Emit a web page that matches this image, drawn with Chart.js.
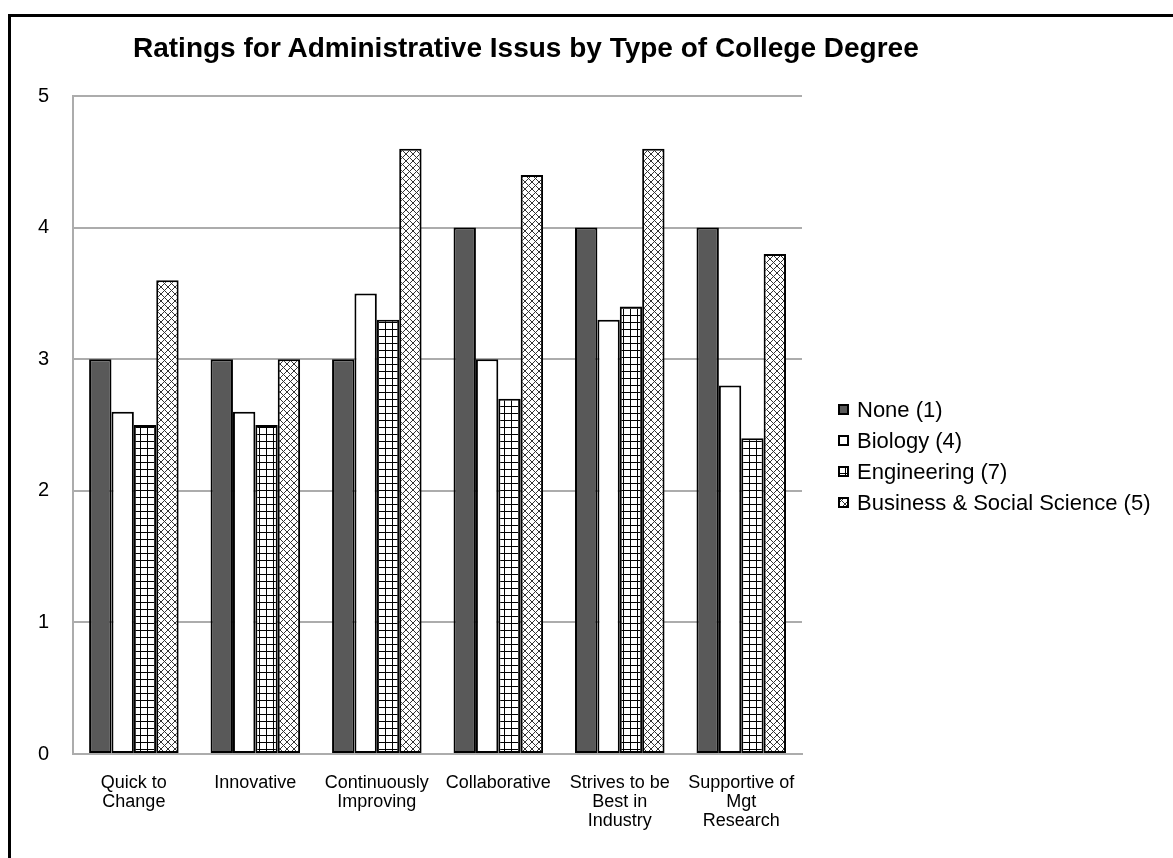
<!DOCTYPE html>
<html>
<head>
<meta charset="utf-8">
<script src="https://cdn.jsdelivr.net/npm/chart.js@4"></script>
<style>
  html, body { margin: 0; padding: 0; background: #fff; }
  #wrap { position: relative; width: 1173px; height: 858px; overflow: hidden;
          font-family: "Liberation Sans", Arial, sans-serif; color: #000; }
  #frame { position: absolute; left: 8px; top: 14px; width: 1200px; height: 900px;
           border-left: 3px solid #000; border-top: 3px solid #000; }
  #titre { position: absolute; left: 133px; top: 32px; font-weight: bold; font-size: 28px; white-space: nowrap; }
  #graphique { position: absolute; left: 0; top: 0; }
  #legende { position: absolute; left: 838px; top: 394px; font-size: 22px; }
  #legende div { height: 31px; line-height: 31px; white-space: nowrap; }
  #legende canvas { vertical-align: middle; margin-right: 8px; position: relative; top: -2px; }
</style>
</head>
<body>
<div id="wrap">
  <div id="frame"></div>
  <canvas id="graphique" width="1173" height="858"></canvas>
  <div id="titre">Ratings for Administrative Issus by Type of College Degree</div>
  <div id="legende"></div>
</div>
<script>
// categories and ratings per degree type
var categories = [
  ['Quick to', 'Change'],
  'Innovative',
  ['Continuously', 'Improving'],
  'Collaborative',
  ['Strives to be', 'Best in', 'Industry'],
  ['Supportive of', 'Mgt', 'Research']
];
var none1 = [3, 3, 3, 4, 4, 4];
var biology4 = [2.6, 2.6, 3.5, 3, 3.3, 2.8];
var engineering7 = [2.5, 2.5, 3.3, 2.7, 3.4, 2.4];
var business5 = [3.6, 3, 4.6, 4.4, 4.6, 3.8];
var seriesNames = ['None (1)', 'Biology (4)', 'Engineering (7)', 'Business & Social Science (5)'];
var yTicks = [0, 1, 2, 3, 4, 5];

// fill patterns
function motifGrille(g0) {
  var c = document.createElement('canvas');
  c.width = 7; c.height = 7;
  var g = c.getContext('2d');
  g.fillStyle = '#fff'; g.fillRect(0, 0, 7, 7);
  g.fillStyle = '#000';
  g.fillRect(0, 0, 7, 1);
  g.fillRect(0, 0, 1, 7);
  return g0.createPattern(c, 'repeat');
}
function motifCroise(g0) {
  var c = document.createElement('canvas');
  c.width = 7; c.height = 7;
  var g = c.getContext('2d');
  g.fillStyle = '#fff'; g.fillRect(0, 0, 7, 7);
  g.strokeStyle = '#333'; g.lineWidth = 1;
  g.beginPath();
  g.moveTo(0, 0); g.lineTo(7, 7);
  g.moveTo(7, 0); g.lineTo(0, 7);
  g.stroke();
  return g0.createPattern(c, 'repeat');
}
function remplissages(g0) {
  return ['#595959', '#ffffff', motifGrille(g0), motifCroise(g0)];
}

Chart.defaults.font.family = '"Liberation Sans", Arial, sans-serif';
Chart.defaults.color = '#000';

var ctx = document.getElementById('graphique').getContext('2d');
var fills = remplissages(ctx);
var values = [none1, biology4, engineering7, business5];

var datasets = seriesNames.map(function(name, i) {
  return {
    label: name,
    data: values[i],
    backgroundColor: fills[i],
    borderColor: '#000',
    borderWidth: 2,
    borderSkipped: false,
    categoryPercentage: 0.737,
    barPercentage: 1
  };
});

var graphique = new Chart(ctx, {
  type: 'bar',
  data: { labels: categories, datasets: datasets },
  options: {
    responsive: false,
    animation: false,
    layout: { padding: { left: 14, top: 96, right: 371, bottom: 15 } },
    plugins: {
      tooltip: { enabled: false },
      legend: { display: false }
    },
    scales: {
      x: {
        grid: { display: false },
        border: { color: '#acacac', width: 2 },
        ticks: { maxRotation: 0, autoSkip: false, padding: 12, font: { size: 18, lineHeight: '19px' } }
      },
      y: {
        min: 0,
        max: 5,
        afterBuildTicks: function(axis) { axis.ticks = yTicks.map(function(v) { return { value: v }; }); },
        grid: { color: '#acacac', lineWidth: 2, drawTicks: false },
        border: { color: '#acacac', width: 2 },
        ticks: { padding: 24, font: { size: 20 } }
      }
    }
  }
});

// legend built from the chart's datasets
var legende = document.getElementById('legende');
graphique.data.datasets.forEach(function(ds, i) {
  var ligne = document.createElement('div');
  var boite = document.createElement('canvas');
  boite.width = 11; boite.height = 11;
  var b = boite.getContext('2d');
  b.fillStyle = remplissages(b)[i];
  b.fillRect(0, 0, 11, 11);
  b.strokeStyle = '#000'; b.lineWidth = 2;
  b.strokeRect(1, 1, 9, 9);
  ligne.appendChild(boite);
  ligne.appendChild(document.createTextNode(ds.label));
  legende.appendChild(ligne);
});
</script>
</body>
</html>
